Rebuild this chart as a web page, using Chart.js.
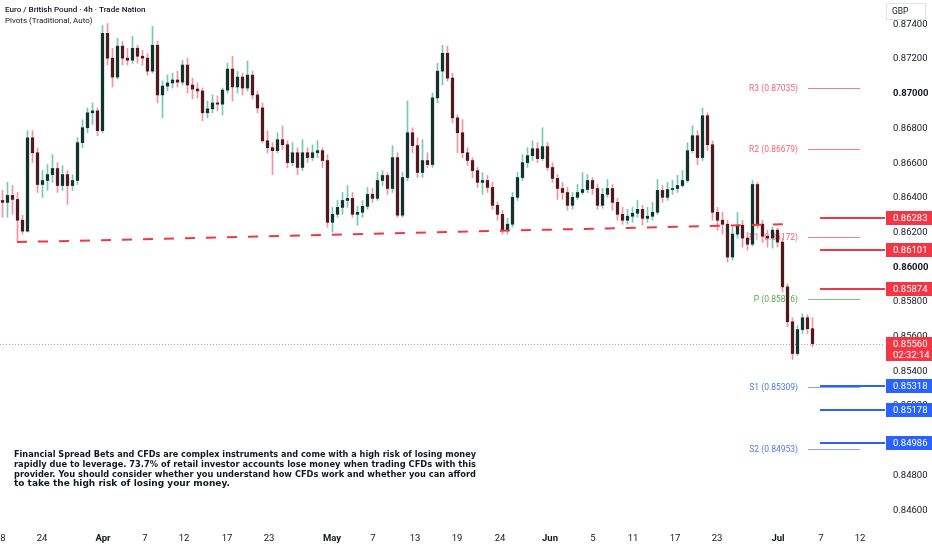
<!DOCTYPE html>
<html>
<head>
<meta charset="utf-8">
<script src="https://cdn.jsdelivr.net/npm/chart.js@4.4.1/dist/chart.umd.min.js"></script>
<style>
  html, body { margin: 0; padding: 0; background: #fff; }
  #wrap { width: 932px; height: 550px; }
</style>
</head>
<body>
<div id="wrap"><canvas id="eurgbp" width="932" height="550"></canvas></div>
<script>
// candles, one per half day: [open, high, low, close]
const candles = [
  [0.86385, 0.86443, 0.86288, 0.86374], [0.86374, 0.86489, 0.86288, 0.86414], [0.86414, 0.86471, 0.86305, 0.86391],
  [0.86391, 0.86431, 0.86145, 0.86271], [0.86271, 0.86300, 0.86191, 0.86208], [0.86208, 0.86787, 0.86202, 0.86746],
  [0.86746, 0.86787, 0.86603, 0.86660], [0.86660, 0.86689, 0.86431, 0.86477], [0.86477, 0.86557, 0.86403, 0.86500],
  [0.86500, 0.86592, 0.86443, 0.86534], [0.86534, 0.86649, 0.86489, 0.86569], [0.86569, 0.86603, 0.86431, 0.86471],
  [0.86471, 0.86586, 0.86443, 0.86534], [0.86534, 0.86557, 0.86363, 0.86471], [0.86471, 0.86534, 0.86443, 0.86500],
  [0.86500, 0.86746, 0.86477, 0.86718], [0.86718, 0.86850, 0.86689, 0.86804], [0.86804, 0.86918, 0.86775, 0.86890],
  [0.86890, 0.86947, 0.86821, 0.86901], [0.86901, 0.86918, 0.86758, 0.86787], [0.86787, 0.87394, 0.86775, 0.87348],
  [0.87348, 0.87405, 0.87165, 0.87205], [0.87205, 0.87262, 0.87039, 0.87096], [0.87096, 0.87319, 0.87085, 0.87274],
  [0.87274, 0.87302, 0.87165, 0.87205], [0.87205, 0.87262, 0.87165, 0.87193], [0.87193, 0.87331, 0.87176, 0.87262],
  [0.87262, 0.87279, 0.87176, 0.87216], [0.87216, 0.87251, 0.87165, 0.87205], [0.87205, 0.87233, 0.87107, 0.87130],
  [0.87130, 0.87388, 0.87119, 0.87279], [0.87279, 0.87302, 0.86947, 0.86993], [0.86993, 0.87073, 0.86861, 0.87044],
  [0.87044, 0.87107, 0.87016, 0.87062], [0.87062, 0.87119, 0.87033, 0.87079], [0.87079, 0.87130, 0.87039, 0.87067],
  [0.87067, 0.87193, 0.87050, 0.87165], [0.87165, 0.87205, 0.87004, 0.87050], [0.87050, 0.87090, 0.86970, 0.87027],
  [0.87027, 0.87062, 0.86976, 0.87016], [0.87016, 0.87033, 0.86844, 0.86890], [0.86890, 0.86958, 0.86861, 0.86913],
  [0.86913, 0.86993, 0.86890, 0.86947], [0.86947, 0.86987, 0.86901, 0.86940], [0.86940, 0.87033, 0.86878, 0.87021],
  [0.87021, 0.87176, 0.87004, 0.87142], [0.87142, 0.87216, 0.86958, 0.87039], [0.87039, 0.87130, 0.87004, 0.87096],
  [0.87096, 0.87119, 0.86993, 0.87033], [0.87033, 0.87188, 0.87016, 0.87107], [0.87107, 0.87130, 0.86970, 0.86993],
  [0.86993, 0.87016, 0.86890, 0.86918], [0.86918, 0.86947, 0.86718, 0.86729], [0.86729, 0.86787, 0.86660, 0.86689],
  [0.86689, 0.86718, 0.86534, 0.86672], [0.86672, 0.86775, 0.86660, 0.86735], [0.86735, 0.86815, 0.86678, 0.86706],
  [0.86706, 0.86729, 0.86575, 0.86603], [0.86603, 0.86718, 0.86586, 0.86660], [0.86660, 0.86689, 0.86534, 0.86575],
  [0.86575, 0.86735, 0.86557, 0.86660], [0.86660, 0.86689, 0.86603, 0.86632], [0.86632, 0.86706, 0.86615, 0.86660],
  [0.86660, 0.86729, 0.86632, 0.86672], [0.86672, 0.86689, 0.86575, 0.86615], [0.86615, 0.86649, 0.86231, 0.86259],
  [0.86259, 0.86345, 0.86202, 0.86305], [0.86305, 0.86385, 0.86288, 0.86345], [0.86345, 0.86431, 0.86305, 0.86385],
  [0.86385, 0.86471, 0.86345, 0.86397], [0.86397, 0.86431, 0.86288, 0.86305], [0.86305, 0.86351, 0.86242, 0.86317],
  [0.86317, 0.86385, 0.86288, 0.86351], [0.86351, 0.86460, 0.86334, 0.86420], [0.86420, 0.86454, 0.86374, 0.86397],
  [0.86397, 0.86546, 0.86385, 0.86500], [0.86500, 0.86557, 0.86471, 0.86529], [0.86529, 0.86546, 0.86420, 0.86454],
  [0.86454, 0.86701, 0.86431, 0.86632], [0.86632, 0.86660, 0.86288, 0.86300], [0.86300, 0.86546, 0.86288, 0.86517],
  [0.86517, 0.86958, 0.86500, 0.86775], [0.86775, 0.86804, 0.86660, 0.86701], [0.86701, 0.86746, 0.86517, 0.86546],
  [0.86546, 0.86735, 0.86517, 0.86615], [0.86615, 0.86660, 0.86575, 0.86592], [0.86592, 0.87004, 0.86575, 0.86976],
  [0.86976, 0.87176, 0.86947, 0.87130], [0.87130, 0.87279, 0.87050, 0.87233], [0.87233, 0.87274, 0.87073, 0.87090],
  [0.87090, 0.87119, 0.86832, 0.86861], [0.86861, 0.86878, 0.86660, 0.86775], [0.86775, 0.86850, 0.86632, 0.86660],
  [0.86660, 0.86689, 0.86586, 0.86615], [0.86615, 0.86632, 0.86517, 0.86557], [0.86557, 0.86575, 0.86460, 0.86489],
  [0.86489, 0.86546, 0.86420, 0.86500], [0.86500, 0.86529, 0.86431, 0.86460], [0.86460, 0.86489, 0.86334, 0.86357],
  [0.86357, 0.86374, 0.86271, 0.86305], [0.86305, 0.86328, 0.86191, 0.86214], [0.86214, 0.86282, 0.86191, 0.86248],
  [0.86248, 0.86431, 0.86231, 0.86403], [0.86403, 0.86546, 0.86385, 0.86517], [0.86517, 0.86649, 0.86500, 0.86603],
  [0.86603, 0.86689, 0.86575, 0.86643], [0.86643, 0.86729, 0.86615, 0.86683], [0.86683, 0.86718, 0.86603, 0.86626],
  [0.86626, 0.86804, 0.86615, 0.86695], [0.86695, 0.86718, 0.86557, 0.86575], [0.86575, 0.86603, 0.86489, 0.86512],
  [0.86512, 0.86534, 0.86391, 0.86454], [0.86454, 0.86489, 0.86391, 0.86431], [0.86431, 0.86460, 0.86328, 0.86357],
  [0.86357, 0.86431, 0.86334, 0.86403], [0.86403, 0.86477, 0.86391, 0.86431], [0.86431, 0.86546, 0.86420, 0.86448],
  [0.86448, 0.86534, 0.86431, 0.86500], [0.86500, 0.86517, 0.86420, 0.86454], [0.86454, 0.86477, 0.86334, 0.86357],
  [0.86357, 0.86454, 0.86340, 0.86420], [0.86420, 0.86506, 0.86403, 0.86454], [0.86454, 0.86477, 0.86328, 0.86374],
  [0.86374, 0.86397, 0.86271, 0.86305], [0.86305, 0.86345, 0.86248, 0.86271], [0.86271, 0.86334, 0.86248, 0.86294],
  [0.86294, 0.86345, 0.86259, 0.86311], [0.86311, 0.86385, 0.86288, 0.86334], [0.86334, 0.86357, 0.86242, 0.86282],
  [0.86282, 0.86345, 0.86259, 0.86294], [0.86294, 0.86374, 0.86271, 0.86317], [0.86317, 0.86506, 0.86305, 0.86443],
  [0.86443, 0.86471, 0.86374, 0.86403], [0.86403, 0.86489, 0.86385, 0.86448], [0.86448, 0.86500, 0.86420, 0.86454],
  [0.86454, 0.86529, 0.86431, 0.86471], [0.86471, 0.86557, 0.86460, 0.86500], [0.86500, 0.86718, 0.86489, 0.86672],
  [0.86672, 0.86815, 0.86660, 0.86758], [0.86758, 0.86787, 0.86592, 0.86632], [0.86632, 0.86918, 0.86615, 0.86873],
  [0.86873, 0.86890, 0.86672, 0.86706], [0.86706, 0.86729, 0.86271, 0.86317], [0.86317, 0.86345, 0.86214, 0.86271],
  [0.86271, 0.86317, 0.86191, 0.86248], [0.86248, 0.86271, 0.86030, 0.86059], [0.86059, 0.86231, 0.86042, 0.86191],
  [0.86191, 0.86317, 0.86168, 0.86242], [0.86242, 0.86271, 0.86116, 0.86168], [0.86168, 0.86202, 0.86099, 0.86133],
  [0.86133, 0.86500, 0.86122, 0.86477], [0.86477, 0.86489, 0.86225, 0.86248], [0.86248, 0.86271, 0.86145, 0.86179],
  [0.86179, 0.86214, 0.86116, 0.86168], [0.86168, 0.86231, 0.86110, 0.86214], [0.86214, 0.86225, 0.86116, 0.86145],
  [0.86145, 0.86168, 0.85858, 0.85887], [0.85887, 0.85904, 0.85658, 0.85686], [0.85686, 0.85709, 0.85469, 0.85503],
  [0.85503, 0.85663, 0.85492, 0.85641], [0.85641, 0.85732, 0.85618, 0.85709], [0.85709, 0.85727, 0.85618, 0.85646],
  [0.85646, 0.85709, 0.85543, 0.85560]
];

// date labels on the time axis, placed at the candle slot they fall on
const dateTickSlots = [0.1, 7.9, 20.1, 28.5, 36.3, 44.9, 53.3, 65.9, 74.1, 82.5, 90.9, 99.5, 109.5, 118.1, 126.1, 134.5, 142.9, 155.1, 163.7, 171.5];
const dateTickLabels = ['8', '24', 'Apr', '7', '12', '17', '23', 'May', '7', '13', '19', '24', 'Jun', '5', '11', '17', '23', 'Jul', '7', '12'];
const monthLabels = ['Apr', 'May', 'Jun', 'Jul'];

const priceTicks = [0.846, 0.848, 0.850, 0.852, 0.854, 0.856, 0.858, 0.860, 0.862, 0.864, 0.866, 0.868, 0.870, 0.872, 0.874];
const boldPriceTicks = [0.860, 0.870];

const pivotNames = ['R3', 'R2', 'R1', 'P', 'S1', 'S2'];
const pivotLevels = [0.87035, 0.86679, 0.86172, 0.85816, 0.85309, 0.84953];

const resistanceLevels = [0.86283, 0.86101, 0.85874];
const supportLevels = [0.85318, 0.85178, 0.84986];

const trendSlots = [2.9, 156.1];
const trendPrices = [0.86145, 0.86248];

const lastPrice = 0.85560;
const countdown = '02:32:14';

const disclaimer = [
    'Financial Spread Bets and CFDs are complex instruments and come with a high risk of losing money',
    'rapidly due to leverage. 73.7% of retail investor accounts lose money when trading CFDs with this',
    'provider. You should consider whether you understand how CFDs work and whether you can afford',
    'to take the high risk of losing your money.'
];

const FONT = 'Roboto, "Liberation Sans", sans-serif';
const TEXT = '#131722';
const RED = '#f23645';
const BLUE = '#2962ff';
const pivotColors = {
    R: { line: '#f47c88', text: '#ee6676' },
    P: { line: '#7cc47c', text: '#55a955' },
    S: { line: '#8aa5f0', text: '#5478e0' }
};

const isUp = candles.map(c => c[3] >= c[0]);

// chart.js reserves room for half a label at the axis ends, which shifts the plot; drop it
const noEdgePadding = scale => {
    scale.paddingTop = 0;
    scale.paddingBottom = 0;
    scale.paddingLeft = 0;
    scale.paddingRight = 0;
};

const overlay = {
    id: 'overlay',
    beforeDatasetsDraw(chart) {
        const { ctx, chartArea, scales: { x, y } } = chart;
        ctx.save();

        // pivot points
        ctx.font = `8.5px ${FONT}`;
        ctx.textAlign = 'right';
        ctx.textBaseline = 'middle';
        pivotLevels.forEach((lvl, i) => {
            const name = pivotNames[i];
            const col = pivotColors[name[0]];
            const py = Math.round(y.getPixelForValue(lvl)) + 0.5;
            ctx.strokeStyle = col.line;
            ctx.lineWidth = 1;
            ctx.beginPath();
            ctx.moveTo(x.getPixelForValue(161.1), py);
            ctx.lineTo(x.getPixelForValue(171.5), py);
            ctx.stroke();
            ctx.fillStyle = col.text;
            ctx.fillText(`${name} (${lvl.toFixed(5)})`, x.getPixelForValue(159.1), py);
        });

        // last price dotted line
        const lp = Math.round(y.getPixelForValue(lastPrice)) + 0.5;
        ctx.strokeStyle = 'rgba(242,54,69,0.6)';
        ctx.setLineDash([1, 2]);
        ctx.beginPath();
        ctx.moveTo(chartArea.left, lp);
        ctx.lineTo(chartArea.right, lp);
        ctx.stroke();
        ctx.restore();
    },
    afterDraw(chart) {
        const { ctx, chartArea, scales: { x, y } } = chart;
        const boxLeft = chartArea.right + 1;
        const boxW = chart.width - boxLeft;
        ctx.save();

        // horizontal rays and their axis labels
        const rays = resistanceLevels.map(v => [v, RED]).concat(supportLevels.map(v => [v, BLUE]));
        rays.forEach(([v, col]) => {
            const py = Math.round(y.getPixelForValue(v));
            ctx.strokeStyle = col;
            ctx.lineWidth = 2;
            ctx.beginPath();
            ctx.moveTo(x.getPixelForValue(163.5), py);
            ctx.lineTo(chartArea.right, py);
            ctx.stroke();
            ctx.fillStyle = col;
            ctx.fillRect(boxLeft, py - 7, boxW, 14);
            ctx.fillStyle = '#fff';
            ctx.font = `9.5px ${FONT}`;
            ctx.textAlign = 'left';
            ctx.textBaseline = 'middle';
            ctx.fillText(v.toFixed(5), chartArea.right + 8, py + 0.5);
        });

        // last price label with countdown
        const lp = Math.round(y.getPixelForValue(lastPrice));
        ctx.fillStyle = RED;
        ctx.fillRect(boxLeft, lp - 7, boxW, 24);
        ctx.fillStyle = '#fff';
        ctx.font = `9.5px ${FONT}`;
        ctx.textAlign = 'left';
        ctx.textBaseline = 'middle';
        ctx.fillText(lastPrice.toFixed(5), chartArea.right + 8, lp + 0.5);
        ctx.fillText(countdown, chartArea.right + 8, lp + 11.5);

        // currency badge
        ctx.fillStyle = '#fff';
        ctx.fillRect(boxLeft, 3, 39, 16);
        ctx.strokeStyle = '#e0e3eb';
        ctx.lineWidth = 1;
        ctx.strokeRect(boxLeft + 0.5, 3.5, 39, 16);
        ctx.fillStyle = TEXT;
        ctx.font = `8.5px ${FONT}`;
        ctx.fillText('GBP', boxLeft + 6, 11.5);

        // legend text top left
        ctx.fillStyle = TEXT;
        ctx.font = `500 8.1px ${FONT}`;
        ctx.fillText('Euro / British Pound · 4h · Trade Nation', 5, 10);
        ctx.font = `8px ${FONT}`;
        ctx.fillText('Pivots (Traditional, Auto)', 5, 21);

        // risk disclaimer
        ctx.font = `bold 9px "DejaVu Sans", sans-serif`;
        disclaimer.forEach((line, i) => {
            ctx.fillText(line, 14, 455 + i * 9.7, 462);
        });
        ctx.restore();
    }
};

new Chart(document.getElementById('eurgbp'), {
    type: 'bar',
    data: {
        datasets: [
            {
                label: 'wicks',
                data: candles.map((c, i) => ({ x: i, y: [c[2], c[1]] })),
                backgroundColor: isUp.map(u => u ? '#76c9b4' : '#f2939e'),
                barThickness: 1,
                grouped: false,
                order: 2
            },
            {
                label: 'bodies',
                data: candles.map((c, i) => ({ x: i, y: [c[0], c[3]] })),
                backgroundColor: isUp.map(u => u ? '#12322b' : '#4d1a20'),
                barThickness: 2.6,
                minBarLength: 1,
                grouped: false,
                order: 1
            },
            {
                type: 'line',
                label: 'trend',
                data: trendSlots.map((s, i) => ({ x: s, y: trendPrices[i] })),
                borderColor: RED,
                borderWidth: 2,
                borderDash: [10, 11],
                pointRadius: 0,
                order: 0
            }
        ]
    },
    options: {
        responsive: false,
        animation: false,
        devicePixelRatio: 1,
        layout: { padding: 0 },
        plugins: {
            legend: { display: false },
            tooltip: { enabled: false }
        },
        scales: {
            x: {
                type: 'linear',
                min: -0.5,
                max: 176.5,
                offset: false,
                grid: { display: false, drawTicks: false },
                border: { display: false },
                afterBuildTicks: scale => {
                    scale.ticks = dateTickSlots.map(v => ({ value: v }));
                },
                afterFit: scale => {
                    scale.height = 25;
                    noEdgePadding(scale);
                },
                ticks: {
                    autoSkip: false,
                    maxRotation: 0,
                    padding: 8,
                    color: TEXT,
                    font: ctx => ({
                        family: FONT,
                        size: 9.5,
                        weight: monthLabels.includes(dateTickLabels[ctx.index]) ? 'bold' : 'normal'
                    }),
                    callback: (value, index) => dateTickLabels[index]
                }
            },
            y: {
                position: 'right',
                min: 0.84515,
                max: 0.8754,
                grid: { display: false, drawTicks: false },
                border: { display: false },
                afterBuildTicks: scale => {
                    scale.ticks = priceTicks.map(v => ({ value: v }));
                },
                afterFit: scale => {
                    scale.width = 47;
                    noEdgePadding(scale);
                },
                ticks: {
                    padding: 8,
                    color: TEXT,
                    font: ctx => ({
                        family: FONT,
                        size: 9.5,
                        weight: ctx.tick && boldPriceTicks.includes(ctx.tick.value) ? 'bold' : 'normal'
                    }),
                    callback: value => value.toFixed(5)
                }
            }
        }
    },
    plugins: [overlay]
});
</script>
</body>
</html>
